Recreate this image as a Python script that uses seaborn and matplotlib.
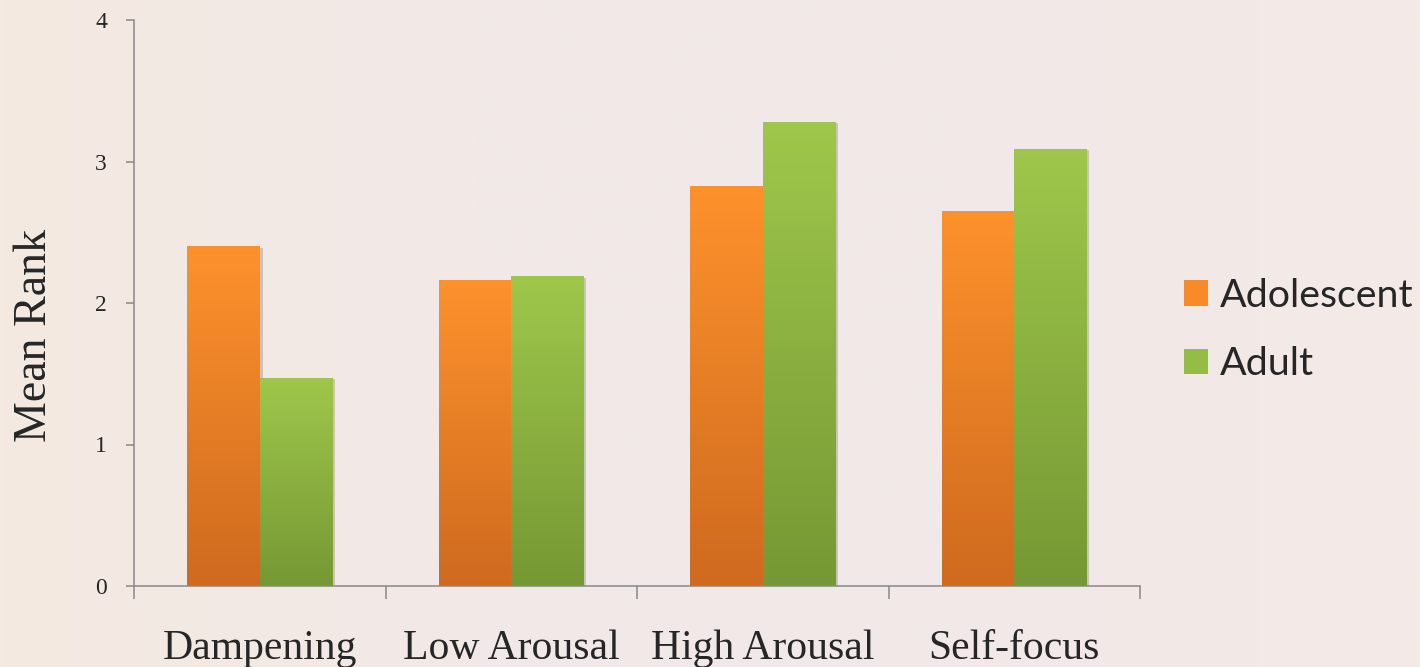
import numpy as np
import pandas as pd
import matplotlib
matplotlib.use("Agg")
import matplotlib.pyplot as plt
import matplotlib.patheffects as pe
from matplotlib.colors import LinearSegmentedColormap
import seaborn as sns

# values
categories = ["Dampening", "Low Arousal", "High Arousal", "Self-focus"]
groups = ["Adolescent", "Adult"]
adolescent = [2.40, 2.16, 2.83, 2.65]
adult = [1.47, 2.19, 3.28, 3.09]

df = pd.DataFrame({
    "category": categories * 2,
    "group": ["Adolescent"] * 4 + ["Adult"] * 4,
    "rank": adolescent + adult,
})

sns.set_theme(style="ticks")
plt.rcParams['font.family'] = ['Liberation Serif', 'DejaVu Serif']

bg = "#f2e9e8"
orange = "#f98a29"
green = "#93bd45"

fig = plt.figure(figsize=(14.2, 6.67), dpi=100, facecolor=bg)

# faded backdrop: slightly warmer at the left and right edges
bgax = fig.add_axes([0, 0, 1, 1], zorder=-5)
bgcmap = LinearSegmentedColormap.from_list("bg", ["#f4eae1", "#f2e9e8", "#f1e8e8", "#f4ebe7"])
bgax.imshow(np.linspace(0, 1, 512).reshape(1, -1), cmap=bgcmap, aspect="auto",
            extent=[0, 1, 0, 1])
bgax.set_axis_off()

ax = fig.add_axes([134/1420, 1-586/667, (1140-134)/1420, (586-20)/667])
ax.set_facecolor("none")

sns.barplot(data=df, x="category", y="rank", hue="group", hue_order=groups,
            palette=[orange, green], width=0.575, saturation=1,
            edgecolor="none", linewidth=0, ax=ax)

# vertical gradient fill for each bar (light top, darker bottom)
grads = {
    "Adolescent": LinearSegmentedColormap.from_list("o", ["#cf6a1f", "#fd922c"]),
    "Adult": LinearSegmentedColormap.from_list("g", ["#769834", "#9fc74b"]),
}
shade = np.linspace(0, 1, 256).reshape(-1, 1)
for i, bar in enumerate(ax.patches[:8]):
    g = groups[i // 4]
    x0, y0 = bar.get_x(), bar.get_y()
    w, h = bar.get_width(), bar.get_height()
    bar.set_path_effects([pe.SimplePatchShadow(offset=(2, -1), alpha=0.25, shadow_rgbFace="#555555"), pe.Normal()])
    im = ax.imshow(shade, cmap=grads[g], origin="lower", aspect="auto",
                   extent=[x0, x0 + w, y0, y0 + h], zorder=bar.get_zorder() + 0.1)
    im.set_clip_path(bar)

ax.set_xlim(-0.5, 3.5)
ax.set_ylim(0, 4)
ax.set_yticks([0, 1, 2, 3, 4])
ax.set_xticks([-0.5, 0.5, 1.5, 2.5, 3.5])
ax.set_xticklabels([])
ax.set_xticks(range(len(categories)), minor=True)
ax.set_xticklabels(categories, minor=True, fontsize=30)
ax.tick_params(axis="x", which="major", length=9, width=1.1, color="#888888", direction="out")
ax.tick_params(axis="x", which="minor", length=0, pad=31)
ax.tick_params(axis="y", length=5.5, width=1.1, color="#888888", labelsize=17, pad=14)

for s in ["top", "right"]:
    ax.spines[s].set_visible(False)
for s in ["left", "bottom"]:
    ax.spines[s].set_color("#888888")
    ax.spines[s].set_linewidth(1.1)

ax.set_xlabel("")
ax.set_ylabel("Mean Rank", fontsize=33)
ax.yaxis.set_label_coords(-0.078, 0.443)

leg = ax.legend(loc="center left", bbox_to_anchor=(1184/1420, 1-330/667),
                bbox_transform=fig.transFigure, frameon=False,
                prop={"family": ["Lato", "DejaVu Sans"], "size": 28.4},
                handlelength=0.61, handleheight=0.61, handletextpad=0.3,
                labelspacing=0.82, borderpad=0, borderaxespad=0)

fig.savefig("out.png", dpi=100, facecolor=bg)
